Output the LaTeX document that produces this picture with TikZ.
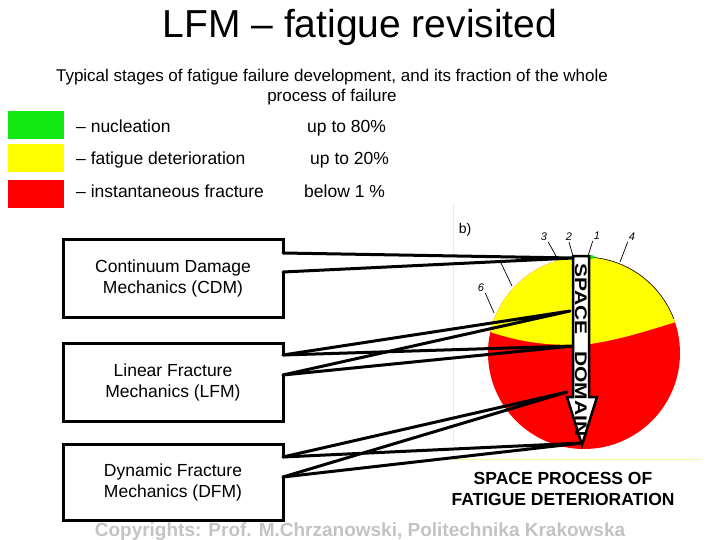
\documentclass[tikz,border=0pt]{standalone}
\usepackage{fontspec}
\setmainfont{Liberation Sans}
\usepackage{xcolor}
\usetikzlibrary{calc,positioning}
\definecolor{stagegreen}{RGB}{18,232,18}
\definecolor{stageyellow}{RGB}{255,255,0}
\definecolor{stagered}{RGB}{255,0,0}
\definecolor{framecol}{RGB}{245,245,160}
\definecolor{copygray}{RGB}{195,195,195}

\begin{document}
\begin{tikzpicture}[
    x=1pt, y=-1pt,
    stagebox/.style={draw, line width=3pt, outer sep=0pt, minimum width=220, minimum height=78, align=center, font=\fontsize{17.5}{21}\selectfont},
    legendbox/.style={minimum width=56, minimum height=28, inner sep=0pt, outer sep=0pt},
    legendtxt/.style={anchor=base west, inner sep=0pt, font=\fontsize{17.5}{21}\selectfont},
    pointer/.style={line width=3pt, line cap=round, line join=round},
    gapfill/.style={white, line width=4pt},
    stagenum/.style={font=\fontsize{11}{11}\selectfont\itshape, inner sep=1pt},
    leader/.style={line width=0.7pt}
]

\useasboundingbox (0,0) rectangle (720,540);

% Title & Header
\node[font=\fontsize{39}{39}\selectfont] (title) at (360,27) {LFM – fatigue revisited};
\node[align=center, font=\fontsize{17}{20}\selectfont] (subtitle) at (332,87) {Typical stages of fatigue failure development, and its fraction of the whole\\process of failure};

% Legend
\node[legendbox, fill=stagegreen] (key-nucl) at (36,125) {};
\node[legendbox, fill=stageyellow] (key-fat) at (36,158) {};
\node[legendbox, fill=stagered] (key-frac) at (36,194) {};
\node[legendtxt] (txt-nucl) at (76,133) {– nucleation};
\node[legendtxt] (txt-fat) at (76,165) {– fatigue deterioration};
\node[legendtxt] (txt-frac) at (76,198) {– instantaneous fracture};
\node[legendtxt] (val-nucl) at (307,133) {up to 80\%};
\node[legendtxt] (val-fat) at (310,165) {up to 20\%};
\node[legendtxt] (val-frac) at (304,198) {below 1 \%};

% Figure b) frame
\draw[framecol, line width=1pt] (453,203) -- (453,459) -- (700,459);
\node[font=\fontsize{14}{14}\selectfont] (figlabel) at (465,230) {b)};

% Cross-section: fatigue zone (yellow) over fracture zone (red)
\fill[stagered] (584,353) circle[radius=96];
\begin{scope}
  \clip (584,353) circle[radius=96];
  \fill[stageyellow] (470,240) -- (470,330) -- (490,332)
    .. controls (520,342) and (545,345) .. (573,345) -- (590,344)
    .. controls (630,338) and (660,326) .. (690,318) -- (690,240) -- cycle;
\end{scope}
\begin{scope}
  \clip (584,250) rectangle (690,318);
  \draw[line width=0.6pt] (584,353) circle[radius=96];
\end{scope}
\fill[stagegreen] (590,257) ellipse[x radius=5, y radius=2];

% Stage numbers with leaders
\node[stagenum] (n3) at (544,237) {3};
\node[stagenum] (n2) at (569,237) {2};
\node[stagenum] (n1) at (597,236) {1};
\node[stagenum] (n4) at (632,237) {4};
\node[stagenum] (n6) at (481,288) {6};
\coordinate (rim3) at (556,256);
\coordinate (rim2) at (573,256);
\coordinate (rim1) at (588,256);
\coordinate (rim4) at (620,262);
\coordinate (rim5) at (512,286);
\coordinate (tick5) at (501,263);
\coordinate (rim6) at (494,313);
\draw[leader] (n3.south east) -- (rim3);
\draw[leader] (n2.south) -- (rim2);
\draw[leader] (n1.south west) -- (rim1);
\draw[leader] (n4.south west) -- (rim4);
\draw[leader] (tick5) -- (rim5);
\draw[leader] (n6.south east) -- (rim6);

% Space domain arrow
\filldraw[fill=white, line width=2.5pt, line join=miter] (573,256) -- (589,256) -- (589,397) -- (597,397)
  -- (582,445) -- (567,397) -- (573,397) -- cycle;
\node[rotate=-90, inner sep=0pt, font=\bfseries\fontsize{21}{21}\selectfont] (domain) at (581,350)
  {\scalebox{1}[0.8]{SPACE\hspace{0.8em}DOMAIN}};

\node[align=center, font=\bfseries\fontsize{17.5}{21}\selectfont] (caption) at (563,488.5) {SPACE PROCESS OF\\FATIGUE DETERIORATION};

% Mechanics boxes
\node[stagebox] (cdm) at (173,278) {Continuum Damage\\Mechanics (CDM)};
\node[stagebox] (lfm) at (173,382) {Linear Fracture\\Mechanics (LFM)};
\node[stagebox, minimum height=76] (dfm) at (173,482) {Dynamic Fracture\\Mechanics (DFM)};

% Pointers from boxes to the arrow
\coordinate (cdm-a) at ($(cdm.north east)+(0,14)$);
\coordinate (cdm-b) at ($(cdm.north east)+(0,33)$);
\coordinate (lfm-a) at ($(lfm.north east)+(0,12)$);
\coordinate (lfm-b) at ($(lfm.north east)+(0,32)$);
\coordinate (dfm-a) at ($(dfm.north east)+(0,13)$);
\coordinate (dfm-b) at ($(dfm.north east)+(0,33)$);
\coordinate (tip-cdm) at (573,258);
\coordinate (tip-lfm-up) at (570,311);
\coordinate (tip-lfm-lo) at (573,346);
\coordinate (tip-dfm-up) at (567,392);
\coordinate (tip-dfm-lo) at (582,443);

\draw[gapfill] (cdm-a) -- (cdm-b);
\draw[gapfill] (lfm-a) -- (lfm-b);
\draw[gapfill] (dfm-a) -- (dfm-b);
\draw[pointer] (cdm-a) -- (tip-cdm) -- (cdm-b);
\draw[pointer] (lfm-a) -- (tip-lfm-up) -- (lfm-b);
\draw[pointer] (lfm-a) -- (tip-lfm-lo) -- (lfm-b);
\draw[pointer] (dfm-a) -- (tip-dfm-up) -- (dfm-b);
\draw[pointer] (dfm-a) -- (tip-dfm-lo) -- (dfm-b);

% Footer
\node[font=\bfseries\fontsize{19}{19}\selectfont, text=copygray] (copyright) at (360,531.5) {Copyrights: Prof. M.Chrzanowski, Politechnika Krakowska};

\end{tikzpicture}
\end{document}
